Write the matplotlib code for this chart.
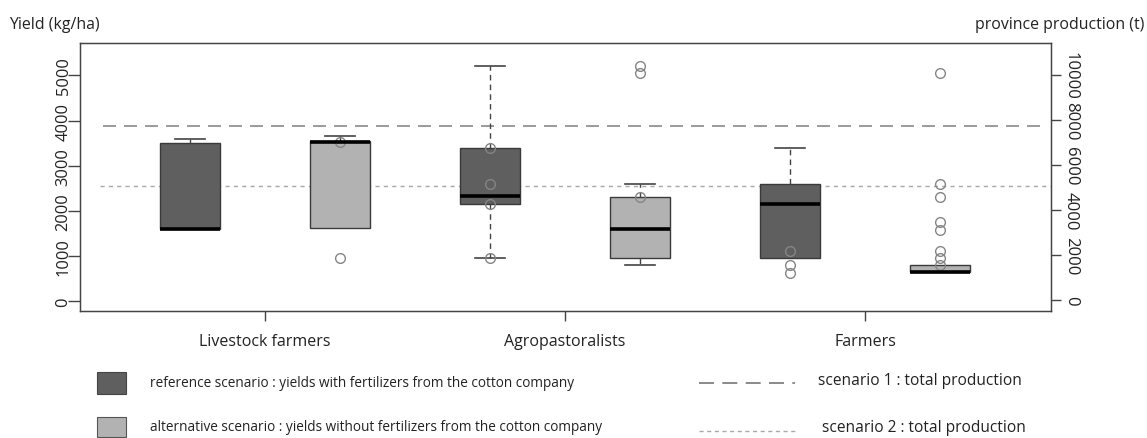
import matplotlib
matplotlib.use('Agg')
import matplotlib.pyplot as plt
from matplotlib.patches import Rectangle
from matplotlib.lines import Line2D

plt.rcParams['font.family'] = ['Open Sans', 'DejaVu Sans']

# box statistics (kg/ha)
groups = ['Livestock farmers', 'Agropastoralists', 'Farmers']
q1 = [1600, 1620, 2150, 950, 950, 640]
med = [1600, 3530, 2320, 1600, 2150, 640]
q3 = [3500, 3550, 3400, 2310, 2600, 800]
whislo = [1600, 1620, 960, 800, 950, 640]
whishi = [3600, 3650, 5220, 2590, 3400, 800]
fliers = [
    [],
    [950, 3530],
    [3400, 2600, 2150, 960],
    [5200, 5050, 2310],
    [1100, 800, 620],
    [5050, 2600, 2300, 1750, 1580, 1120, 950, 800],
]
scenario1 = 3870   # total production, scenario 1
scenario2 = 2540   # total production, scenario 2

dark = '#5f5f5f'
light = '#b2b2b2'
fills = [dark, light] * 3

fig = plt.figure(figsize=(11.47, 4.39), dpi=100)
ax = fig.add_axes([0.0697, 0.2893, 0.8466, 0.6105])

stats = []
for i in range(6):
    stats.append(dict(q1=q1[i], med=med[i], q3=q3[i], whislo=whislo[i],
                      whishi=whishi[i], fliers=fliers[i]))

bp = ax.bxp(stats, positions=range(1, 7), widths=0.4, patch_artist=True,
            showfliers=True, capwidths=0.2,
            boxprops=dict(edgecolor='#3a3a3a', linewidth=1),
            medianprops=dict(color='black', linewidth=2.6, solid_capstyle='butt'),
            whiskerprops=dict(color='#444444', linewidth=1, linestyle=(0, (4, 3))),
            capprops=dict(color='#444444', linewidth=1.2),
            flierprops=dict(marker='o', markerfacecolor='none',
                            markeredgecolor='#858585', markersize=7,
                            markeredgewidth=1))
for patch, c in zip(bp['boxes'], fills):
    patch.set_facecolor(c)

# no cap where the whisker has zero length
for i in range(6):
    if whislo[i] == q1[i]:
        bp['caps'][2 * i].set_visible(False)
    if whishi[i] == q3[i]:
        bp['caps'][2 * i + 1].set_visible(False)

ax.hlines(scenario1, 0.42, 6.68, colors='#8a8a8a', linewidth=1.2,
          linestyles=(0, (7.8, 4.8)), zorder=0.5)
ax.hlines(scenario2, 0.40, 6.74, colors='#a8a8a8', linewidth=1,
          linestyles=(0, (3, 3)), zorder=0.5)

ax.set_xlim(0.267, 6.74)
ax.set_ylim(-220, 5720)
ax.set_xticks([1.5, 3.5, 5.5])
ax.set_xticklabels(groups, fontsize=11.5)
ax.set_yticks([0, 1000, 2000, 3000, 4000, 5000])
ax.set_yticklabels(['0', '1000', '2000', '3000', '4000', '5000'],
                   rotation=90, va='center', fontsize=11.8)
ax.tick_params(axis='both', direction='out', width=1,
               color='#444444', labelcolor='#222222')
ax.tick_params(axis='x', length=7.5, pad=8.5)
ax.tick_params(axis='y', length=8.5, pad=-2.5)
for s in ax.spines.values():
    s.set_color('#444444')
    s.set_linewidth(1)

ax2 = ax.twinx()
ax2.set_ylim(-490, 11420)
ax2.set_yticks([0, 2000, 4000, 6000, 8000, 10000])
ax2.set_yticklabels(['0', '2000', '4000', '6000', '8000', '10000'],
                    rotation=270, va='center', fontsize=12)
ax2.tick_params(axis='y', direction='out', length=7, width=1,
                color='#444444', labelcolor='#222222', pad=1.5)
for s in ax2.spines.values():
    s.set_color('#444444')

fig.text(0.008, 0.943, 'Yield (kg/ha)', fontsize=11.4, color='#222222',
         va='center', ha='left')
fig.text(0.998, 0.943, 'province production (t)', fontsize=11.4,
         color='#222222', va='center', ha='right')

# legend drawn below the plot
fig.patches.append(Rectangle((0.0846, 0.1002), 0.0253, 0.050,
                             transform=fig.transFigure, facecolor=dark,
                             edgecolor='#444444', linewidth=0.8))
fig.patches.append(Rectangle((0.0846, 0.003), 0.0253, 0.0456,
                             transform=fig.transFigure, facecolor=light,
                             edgecolor='#555555', linewidth=0.8))
fig.text(0.131, 0.127, 'reference scenario : yields with fertilizers from the cotton company',
         fontsize=9.8, color='#222222', va='center')
fig.text(0.131, 0.027, 'alternative scenario : yields without fertilizers from the cotton company',
         fontsize=9.8, color='#222222', va='center')
fig.lines.append(Line2D([0.609, 0.693], [0.125, 0.125], transform=fig.transFigure,
                        color='#777777', linewidth=1.2, linestyle=(0, (9, 5))))
fig.lines.append(Line2D([0.609, 0.695], [0.016, 0.016], transform=fig.transFigure,
                        color='#aaaaaa', linewidth=1, linestyle=(0, (3, 2.5))))
fig.text(0.713, 0.132, 'scenario 1 : total production',
         fontsize=11.2, color='#222222', va='center')
fig.text(0.717, 0.024, 'scenario 2 : total production',
         fontsize=11.2, color='#222222', va='center')

fig.savefig('out.png', dpi=100)
